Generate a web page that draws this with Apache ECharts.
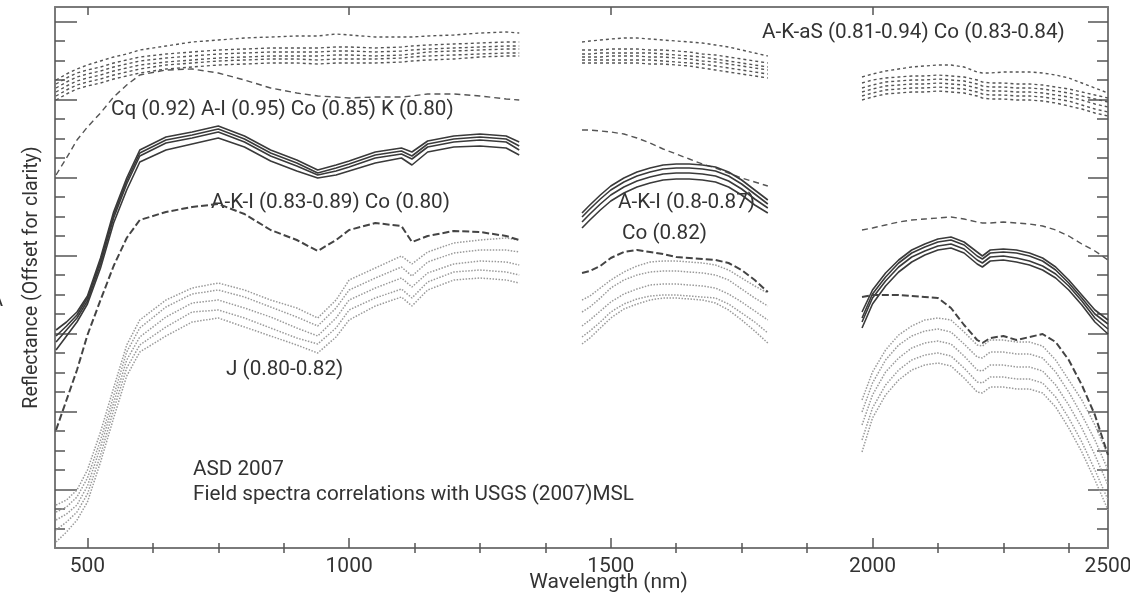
<!DOCTYPE html>
<html><head><meta charset="utf-8">
<script src="https://cdn.jsdelivr.net/npm/echarts@6/dist/echarts.min.js"></script>
<style>html,body{margin:0;padding:0;background:#fff}#c{width:1130px;height:597px}</style>
</head><body><div id="c"></div>
<script>
// Wavelength grids (nm) for the three spectral windows
const wlA = [440,460,480,500,525,550,575,600,650,700,750,800,850,900,940,975,1000,1050,1100,1120,1150,1200,1250,1300,1325];
const wlB = [1445,1460,1480,1500,1525,1550,1575,1600,1625,1650,1675,1700,1725,1750,1775,1800];
const wlC = [1980,2000,2025,2050,2075,2100,2125,2150,2175,2200,2210,2225,2250,2275,2300,2325,2350,2375,2400,2425,2450];

// A-K-aS group (short dashed), offset reflectance
const aksA1 = [46.8,47.4,47.9,48.3,48.7,49.1,49.4,49.8,50.2,50.6,50.8,51.0,51.1,51.2,51.2,51.4,51.3,51.1,51.1,51.1,51.2,51.3,51.5,51.6,51.5];
const aksA2 = [46.4,47.0,47.5,47.8,48.1,48.5,48.8,49.1,49.4,49.6,49.8,49.9,50.0,50.0,50.0,50.1,50.1,50.0,50.1,50.2,50.3,50.4,50.5,50.6,50.6];
const aksA3 = [46.0,46.6,47.1,47.4,47.7,48.1,48.4,48.7,49.0,49.2,49.4,49.5,49.6,49.6,49.6,49.7,49.7,49.6,49.7,49.8,49.9,50.0,50.1,50.2,50.2];
const aksA4 = [45.6,46.2,46.7,47.0,47.3,47.7,48.0,48.3,48.6,48.8,49.0,49.1,49.2,49.2,49.2,49.3,49.3,49.2,49.3,49.4,49.6,49.7,49.8,49.9,49.9];
const aksA5 = [45.2,45.8,46.3,46.6,46.9,47.3,47.6,47.9,48.3,48.5,48.7,48.8,48.9,48.9,48.8,48.9,48.9,48.9,49.0,49.1,49.2,49.3,49.4,49.5,49.5];
const aksA6 = [44.8,45.4,45.9,46.2,46.5,46.9,47.2,47.5,47.9,48.1,48.3,48.4,48.5,48.5,48.4,48.5,48.5,48.5,48.6,48.7,48.8,48.9,49.1,49.2,49.2];
const aksB1 = [50.6,50.7,50.8,50.9,51.0,51.0,50.9,50.8,50.7,50.6,50.5,50.3,50.1,49.8,49.5,49.2];
const aksB2 = [49.8,49.8,49.8,49.9,49.9,49.9,49.8,49.8,49.7,49.6,49.4,49.3,49.1,48.9,48.7,48.5];
const aksB3 = [49.4,49.4,49.5,49.5,49.5,49.5,49.5,49.4,49.3,49.2,49.1,48.9,48.7,48.5,48.3,48.1];
const aksB4 = [49.1,49.1,49.1,49.2,49.2,49.2,49.1,49.1,49.0,48.9,48.7,48.6,48.4,48.2,48.0,47.8];
const aksB5 = [48.8,48.8,48.8,48.8,48.8,48.8,48.8,48.7,48.6,48.5,48.4,48.2,48.0,47.8,47.6,47.4];
const aksB6 = [48.5,48.5,48.5,48.5,48.5,48.5,48.4,48.4,48.3,48.2,48.0,47.8,47.6,47.4,47.2,47.0];
const aksC1 = [47.1,47.4,47.7,47.9,48.1,48.2,48.3,48.3,48.1,47.6,47.5,47.5,47.6,47.6,47.6,47.5,47.3,47.0,46.5,46.0,45.5];
const aksC2 = [46.5,46.8,47.0,47.1,47.2,47.2,47.3,47.2,47.1,46.8,46.6,46.5,46.5,46.4,46.4,46.3,46.1,45.9,45.6,45.3,45.0];
const aksC3 = [46.0,46.3,46.6,46.7,46.8,46.8,46.9,46.8,46.7,46.4,46.2,46.1,46.1,46.0,46.0,45.9,45.7,45.5,45.2,44.9,44.6];
const aksC4 = [45.6,45.9,46.2,46.3,46.4,46.4,46.5,46.4,46.3,46.0,45.8,45.7,45.7,45.6,45.6,45.5,45.3,45.1,44.8,44.4,44.1];
const aksC5 = [45.2,45.5,45.8,45.9,46.0,46.0,46.1,46.0,45.9,45.6,45.4,45.3,45.3,45.2,45.2,45.1,44.9,44.7,44.3,43.9,43.6];
const aksC6 = [44.8,45.1,45.4,45.5,45.6,45.6,45.7,45.6,45.5,45.2,45.0,44.9,44.9,44.8,44.8,44.7,44.5,44.2,43.9,43.5,43.2];

// Cq reference (long dashed)
const cqA = [37.3,39.0,40.8,42.1,43.5,45.1,46.3,47.3,47.8,47.9,47.5,46.8,46.0,45.5,45.2,45.1,45.0,45.1,45.1,45.2,45.4,45.4,45.2,44.9,44.8];
const cqB = [41.8,41.8,41.7,41.6,41.4,41.0,40.5,39.9,39.4,38.9,38.4,38.0,37.5,37.0,36.6,36.2];
const cqC = [31.8,32.0,32.3,32.6,32.8,32.9,33.0,33.1,32.9,32.6,32.5,32.5,32.6,32.5,32.4,32.2,31.8,31.2,30.4,29.7,28.8];

// Solid group
const solA1 = [21.8,22.6,23.6,25.2,29.0,33.6,37.0,39.8,41.1,41.6,42.2,41.2,39.8,38.8,37.8,38.3,38.7,39.6,40.0,39.6,40.7,41.2,41.4,41.2,40.6];
const solA2 = [21.2,22.2,23.3,25.0,28.7,33.3,36.7,39.5,40.8,41.3,41.9,40.9,39.5,38.5,37.5,38.0,38.4,39.3,39.7,39.2,40.4,40.9,41.1,40.9,40.2];
const solA3 = [20.6,21.8,23.0,24.7,28.4,33.0,36.4,39.2,40.5,41.0,41.6,40.6,39.2,38.2,37.3,37.7,38.1,39.0,39.4,38.9,40.1,40.6,40.8,40.6,39.8];
const solA4 = [19.8,21.2,22.6,24.4,28.0,32.5,35.8,38.6,39.8,40.4,41.0,40.1,38.7,37.7,37.0,37.3,37.7,38.5,39.0,38.3,39.6,40.1,40.2,40.0,39.3];
const solB1 = [33.5,34.3,35.3,36.2,37.0,37.6,38.0,38.3,38.4,38.4,38.3,38.1,37.6,36.8,35.8,34.8];
const solB2 = [33.1,33.9,34.9,35.8,36.6,37.2,37.6,37.9,38.0,38.0,37.9,37.7,37.2,36.4,35.4,34.4];
const solB3 = [32.6,33.4,34.4,35.3,36.1,36.7,37.1,37.4,37.5,37.5,37.4,37.2,36.7,35.9,34.9,34.0];
const solB4 = [32.0,32.8,33.8,34.7,35.5,36.1,36.5,36.8,36.9,36.9,36.8,36.6,36.1,35.3,34.3,33.5];
const solC1 = [23.6,25.8,27.5,28.8,29.8,30.4,30.9,31.1,30.6,29.6,29.2,29.8,29.9,29.8,29.5,29.0,28.1,26.8,25.3,23.8,22.8];
const solC2 = [23.0,25.4,27.1,28.5,29.5,30.1,30.6,30.8,30.3,29.2,28.9,29.5,29.6,29.5,29.2,28.7,27.8,26.5,25.0,23.4,22.4];
const solC3 = [22.6,25.0,26.7,28.1,29.1,29.7,30.2,30.4,29.9,28.8,28.5,29.1,29.2,29.0,28.7,28.2,27.4,26.2,24.7,23.0,21.9];
const solC4 = [22.0,24.4,26.2,27.6,28.6,29.3,29.8,30.0,29.5,28.4,28.1,28.7,28.8,28.6,28.3,27.8,27.0,25.8,24.3,22.6,21.4];

// A-K-I reference (heavy dashed)
const akiA = [11.8,14.8,17.8,21.3,24.8,28.2,31.0,32.8,33.6,34.1,34.4,33.4,31.8,30.8,29.7,30.8,31.8,32.5,32.2,30.6,31.2,31.7,31.6,31.2,30.8];
const akiB = [27.5,27.7,28.2,29.0,29.6,29.8,29.6,29.4,29.1,29.0,28.9,28.8,28.5,27.8,26.8,25.6];
const akiC = [25.1,25.3,25.3,25.3,25.2,25.1,25.0,24.0,22.3,20.8,20.5,21.0,21.2,20.8,21.1,21.4,20.6,18.8,16.3,13.3,9.3];

// J group (dotted)
const jA1 = [4.3,4.8,5.8,7.8,11.6,16.0,20.3,22.8,24.8,26.0,26.5,25.8,24.8,24.0,23.0,24.8,26.8,28.0,29.2,28.4,29.6,30.5,30.8,31.0,30.8];
const jA2 = [3.6,4.1,5.1,7.0,10.8,15.2,19.6,22.0,24.1,25.4,25.8,25.1,24.1,23.1,22.2,24.0,25.8,27.0,28.1,27.2,28.6,29.5,29.8,29.8,29.6];
const jA3 = [2.8,3.4,4.3,6.2,10.1,14.5,18.8,21.1,23.1,24.5,24.8,24.0,23.1,22.0,21.2,23.0,24.8,26.0,27.0,26.1,27.5,28.4,28.7,28.6,28.3];
const jA4 = [1.8,2.6,3.6,5.4,9.3,13.8,18.0,20.3,22.1,23.6,23.8,23.0,22.0,21.0,20.4,22.0,23.8,25.0,25.9,25.0,26.6,27.6,27.8,27.6,27.3];
const jA5 = [0.6,1.6,2.8,4.6,8.6,13.0,17.2,19.6,21.2,22.6,23.0,22.1,21.2,20.3,19.5,21.1,22.8,24.2,25.1,24.2,25.8,26.8,27.0,26.8,26.5];
const jB1 = [24.8,25.2,26.0,26.8,27.6,28.2,28.6,28.7,28.7,28.6,28.5,28.3,27.8,27.0,26.2,25.5];
const jB2 = [23.6,24.1,25.0,26.0,26.8,27.3,27.6,27.7,27.7,27.6,27.5,27.3,26.8,25.9,25.0,24.2];
const jB3 = [22.2,22.8,23.7,24.6,25.4,25.9,26.3,26.4,26.4,26.3,26.2,26.0,25.4,24.6,23.7,22.8];
const jB4 = [21.1,21.7,22.6,23.6,24.4,24.9,25.2,25.3,25.3,25.2,25.1,25.0,24.4,23.5,22.6,21.5];
const jB5 = [20.4,21.0,22.0,23.0,23.9,24.4,24.8,25.0,25.0,24.9,24.8,24.5,23.8,22.8,21.7,20.5];
const jC1 = [14.8,17.6,19.8,21.3,22.2,22.8,23.0,22.8,21.6,20.3,20.2,20.8,20.8,20.6,20.6,20.2,18.8,16.8,14.8,12.3,9.3];
const jC2 = [13.6,16.5,18.8,20.3,21.2,21.7,21.9,21.6,20.4,19.1,19.0,19.6,19.6,19.4,19.4,19.0,17.6,15.6,13.3,10.8,7.8];
const jC3 = [12.3,15.3,17.6,19.0,20.0,20.5,20.7,20.4,19.2,17.8,17.7,18.3,18.3,18.1,18.1,17.7,16.3,14.3,12.0,9.3,6.3];
const jC4 = [10.8,14.0,16.3,17.8,18.8,19.3,19.5,19.2,18.0,16.6,16.5,17.1,17.1,16.9,16.9,16.5,15.1,13.0,10.6,7.8,4.8];
const jC5 = [9.6,13.0,15.3,16.8,17.8,18.3,18.5,18.2,17.0,15.6,15.5,16.1,16.1,15.9,15.9,15.5,14.1,12.0,9.6,6.8,3.8];

// Axis ticks / labels
const xMajorTicks = [500,1000,1500,2000];
const xMinorTicks = [625,750,875,1125,1250,1375,1625,1750,1875,2125,2250,2375];
const xLabelValues = [500,1000,1500,2000,2450];
const xLabelTexts = ['500','1000','1500','2000','2500'];
const yMinorTicks = [1.95,3.9,5.85,7.8,9.75,11.7,13.65,15.6,17.55,19.5,21.45,23.4,25.35,27.3,29.25,31.2,33.15,35.1,37.05,39.0,40.95,42.9,44.85,46.8,48.75,50.7,52.65];
const yMajorTicks = [5.85,13.65,21.45,29.25,37.05,44.85,52.65];

const chart = echarts.init(document.getElementById('c'), null, {renderer:'canvas'});
const FONT = 'Roboto';
const TXT = '#333';
const AX = '#7a7a7a';
const FS = 20.7;

function mk(wl, vals, style, z){
  return {type:'line', data: wl.map((w,i)=>[w, vals[i]]), showSymbol:false, symbol:'none',
    lineStyle: style, silent:true, animation:false, z: z, connectNulls:false};
}
const stT = {color:'#555', width:1.4, type:[3,3]};
const stCq = {color:'#555', width:1.4, type:[6,4]};
const stS = {color:'#3a3a3a', width:1.6, type:'solid'};
const stK = {color:'#444', width:2, type:[7,3]};
const stJ = {color:'#9a9a9a', width:1.5, type:[1.5,1.5]};

const series = [];
[[wlA,[jA1,jA2,jA3,jA4,jA5]],[wlB,[jB1,jB2,jB3,jB4,jB5]],[wlC,[jC1,jC2,jC3,jC4,jC5]]].forEach(([w,arr])=>arr.forEach(v=>series.push(mk(w,v,stJ,2))));
[[wlA,[aksA1,aksA2,aksA3,aksA4,aksA5,aksA6]],[wlB,[aksB1,aksB2,aksB3,aksB4,aksB5,aksB6]],[wlC,[aksC1,aksC2,aksC3,aksC4,aksC5,aksC6]]].forEach(([w,arr])=>arr.forEach(v=>series.push(mk(w,v,stT,3))));
[[wlA,cqA],[wlB,cqB],[wlC,cqC]].forEach(([w,v])=>series.push(mk(w,v,stCq,3)));
[[wlA,[solA1,solA2,solA3,solA4]],[wlB,[solB1,solB2,solB3,solB4]],[wlC,[solC1,solC2,solC3,solC4]]].forEach(([w,arr])=>arr.forEach(v=>series.push(mk(w,v,stS,4))));
[[wlA,akiA],[wlB,akiB],[wlC,akiC]].forEach(([w,v])=>series.push(mk(w,v,stK,5)));

const xBase = {type:'value', min:438, max:2450, gridIndex:0, splitLine:{show:false}};
const yBase = {type:'value', min:0, max:54.1, gridIndex:0, splitLine:{show:false}, axisLabel:{show:false}};

const option = {
  animation:false,
  backgroundColor:'#fff',
  grid:{left:55, right:22, top:7, bottom:49, containLabel:false, outerBoundsMode:'none'},
  xAxis:[
    Object.assign({}, xBase, {position:'bottom',
      axisLine:{show:true, onZero:false, lineStyle:{color:AX, width:2}},
      axisTick:{show:true, inside:true, length:10, customValues:xMajorTicks, lineStyle:{color:'#555', width:1.5}},
      axisLabel:{show:true, customValues:xLabelValues, margin:8, fontSize:21, fontFamily:FONT, color:TXT,
        formatter:(v)=>{const i=xLabelValues.indexOf(v); return i>=0?xLabelTexts[i]:String(v);}},
      name:'Wavelength (nm)', nameLocation:'middle', nameGap:24, nameMoveOverlap:false,
      nameTextStyle:{fontSize:21, fontFamily:FONT, color:TXT, padding:[0,0,0,54], verticalAlign:'top'}}),
    Object.assign({}, xBase, {position:'bottom',
      axisLine:{show:false}, axisLabel:{show:false},
      axisTick:{show:true, inside:true, length:5, customValues:xMinorTicks, lineStyle:{color:'#555', width:1.5}}}),
    Object.assign({}, xBase, {position:'top',
      axisLine:{show:true, onZero:false, lineStyle:{color:AX, width:2}}, axisLabel:{show:false},
      axisTick:{show:true, inside:true, length:8, customValues:xMajorTicks, lineStyle:{color:'#555', width:1.5}}}),
    Object.assign({}, xBase, {position:'top',
      axisLine:{show:false}, axisLabel:{show:false},
      axisTick:{show:true, inside:true, length:5, customValues:xMinorTicks, lineStyle:{color:'#555', width:1.5}}})
  ],
  yAxis:[
    Object.assign({}, yBase, {position:'left',
      axisLine:{show:true, onZero:false, lineStyle:{color:AX, width:2}},
      axisTick:{show:true, inside:true, length:10, customValues:yMinorTicks, lineStyle:{color:'#555', width:1.5}},
      name:'Reflectance (Offset for clarity)', nameLocation:'middle', nameGap:13, nameRotate:90, nameMoveOverlap:false,
      nameTextStyle:{fontSize:19.6, fontFamily:FONT, color:TXT}}),
    Object.assign({}, yBase, {position:'left',
      axisLine:{show:false},
      axisTick:{show:true, inside:true, length:22, customValues:yMajorTicks, lineStyle:{color:'#555', width:1.5}}}),
    Object.assign({}, yBase, {position:'right',
      axisLine:{show:true, onZero:false, lineStyle:{color:AX, width:2}},
      axisTick:{show:true, inside:true, length:11, customValues:yMinorTicks, lineStyle:{color:'#555', width:1.5}}}),
    Object.assign({}, yBase, {position:'right',
      axisLine:{show:false},
      axisTick:{show:true, inside:true, length:20, customValues:yMajorTicks, lineStyle:{color:'#555', width:1.5}}})
  ],
  series: series,
  graphic:[
    {type:'text', left:762, top:22, style:{text:'A-K-aS (0.81-0.94) Co (0.83-0.84)', fontSize:FS, fontFamily:FONT, fill:TXT}},
    {type:'text', left:111, top:99, style:{text:'Cq (0.92) A-I (0.95) Co (0.85) K (0.80)', fontSize:FS, fontFamily:FONT, fill:TXT}},
    {type:'text', left:211, top:192, style:{text:'A-K-I (0.83-0.89) Co (0.80)', fontSize:FS, fontFamily:FONT, fill:TXT}},
    {type:'text', left:618, top:192, style:{text:'A-K-I (0.8-0.87)', fontSize:FS, fontFamily:FONT, fill:TXT}},
    {type:'text', left:622, top:223, style:{text:'Co (0.82)', fontSize:FS, fontFamily:FONT, fill:TXT}},
    {type:'text', left:226, top:359, style:{text:'J (0.80-0.82)', fontSize:FS, fontFamily:FONT, fill:TXT}},
    {type:'text', left:193, top:459, style:{text:'ASD 2007', fontSize:FS, fontFamily:FONT, fill:TXT}},
    {type:'text', left:193, top:484, style:{text:'Field spectra correlations with USGS (2007)MSL', fontSize:FS, fontFamily:FONT, fill:TXT}},
    {type:'text', left:-10, top:291, style:{text:'A', fontSize:20, fontFamily:FONT, fill:TXT}}
  ]
};
chart.setOption(option);
</script>
</body></html>
